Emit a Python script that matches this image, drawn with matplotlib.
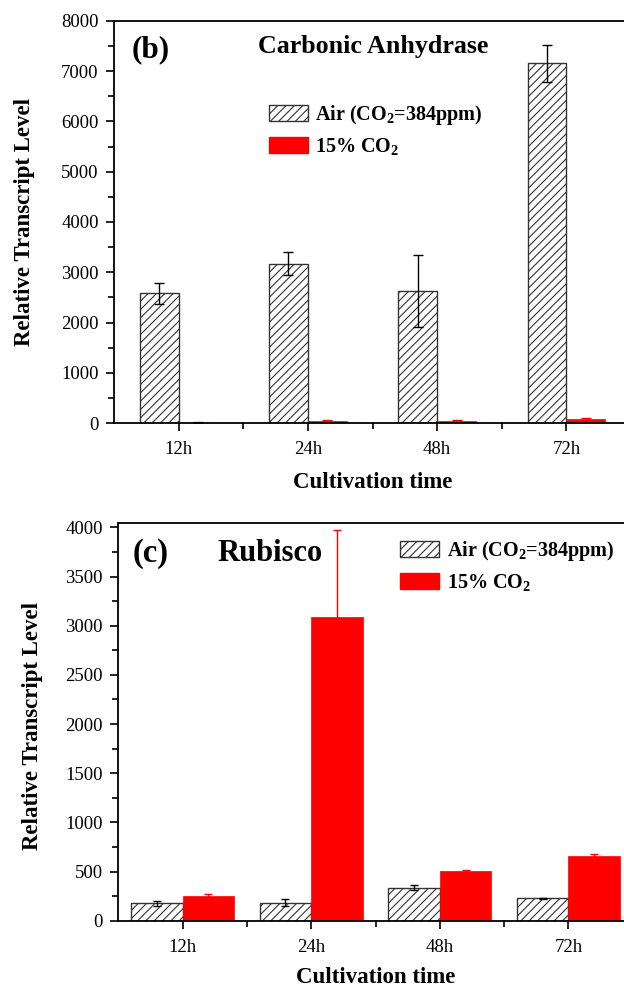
import matplotlib
matplotlib.use('Agg')
import matplotlib.pyplot as plt
import numpy as np
from matplotlib.patches import Patch
from matplotlib.ticker import MultipleLocator, FixedLocator

# ---- data ----
categories = ['12h', '24h', '48h', '72h']
ca_air = [2580, 3175, 2620, 7150]
ca_air_err = [212, 235, 715, 375]
ca_co2 = [15, 50, 50, 85]
ca_co2_err = [5, 8, 8, 30]

rb_air = [175, 182, 335, 228]
rb_air_err = [22, 36, 25, 6]
rb_co2 = [250, 3085, 507, 656]
rb_co2_err = [20, 890, 13, 27]

label_air = r'Air (CO$_\mathbf{2}$=384ppm)'
label_co2 = r'15% CO$_\mathbf{2}$'

plt.rcParams['font.family'] = ['Liberation Serif', 'DejaVu Serif']
plt.rcParams['mathtext.fontset'] = 'custom'
plt.rcParams['mathtext.rm'] = 'Liberation Serif'
plt.rcParams['mathtext.bf'] = 'Liberation Serif:bold'
plt.rcParams['mathtext.it'] = 'Liberation Serif:italic'
plt.rcParams['hatch.linewidth'] = 0.8
plt.rcParams['hatch.color'] = '#333333'

W, H = 624, 988
fig = plt.figure(figsize=(W / 100, H / 100), dpi=100)

ax1 = fig.add_axes([114 / W, 1 - 423.3 / H, 517 / W, 402.6 / H])
ax2 = fig.add_axes([118.3 / W, 1 - 920.7 / H, 514.4 / W, 397.4 / H])

HATCH_EDGE = '#333333'
RED = '#ff0000'


def panel(ax, air, air_err, co2, co2_err, width, ytop, ymaj, ymin, cap):
    x = np.arange(1, len(categories) + 1)
    ax.bar(x - width / 2, air, width, yerr=air_err, color='white',
           edgecolor=HATCH_EDGE, hatch='////', linewidth=1.0,
           error_kw=dict(ecolor='black', elinewidth=1.0, capsize=cap, capthick=1.0))
    ax.bar(x + width / 2, co2, width, yerr=co2_err, color=RED,
           edgecolor=RED, linewidth=0.5,
           error_kw=dict(ecolor=RED, elinewidth=1.0, capsize=cap, capthick=1.0))
    ax.set_xlim(0.5, len(categories) + 0.5)
    ax.set_ylim(0, ytop)
    ax.set_xticks(x)
    ax.set_xticklabels(categories)
    ax.xaxis.set_minor_locator(FixedLocator(x[:-1] + 0.5))
    ax.yaxis.set_major_locator(MultipleLocator(ymaj))
    ax.yaxis.set_minor_locator(MultipleLocator(ymin))
    ax.tick_params(which='major', direction='out', length=6, width=1.2,
                   labelsize=13.5, pad=5)
    ax.tick_params(axis='x', which='major', pad=7)
    ax.tick_params(which='minor', direction='out', length=4, width=1.2)
    for s in ax.spines.values():
        s.set_linewidth(1.3)
    ax.set_ylabel('Relative Transcript Level', fontsize=16.5, fontweight='bold')
    ax.set_xlabel('Cultivation time', fontsize=16.5, fontweight='bold')


panel(ax1, ca_air, ca_air_err, ca_co2, ca_co2_err, 0.3, 8000, 1000, 500, 3.6)
panel(ax2, rb_air, rb_air_err, rb_co2, rb_co2_err, 0.4, 4041, 500, 250, 3.0)

ax1.yaxis.set_label_coords(-0.152, 0.5)
ax2.yaxis.set_label_coords(-0.147, 0.49)
ax1.xaxis.set_label_coords(0.5, -0.122)
ax2.xaxis.set_label_coords(0.5, -0.116)

ax1.text(0.0716, 0.927, '(b)', transform=ax1.transAxes, fontsize=22.5,
         fontweight='bold', ha='center', va='center')
ax1.text(0.501, 0.937, 'Carbonic Anhydrase', transform=ax1.transAxes,
         fontsize=18.7, fontweight='bold', ha='center', va='center')
ax2.text(0.0634, 0.925, '(c)', transform=ax2.transAxes, fontsize=23.5,
         fontweight='bold', ha='center', va='center')
ax2.text(0.294, 0.925, 'Rubisco', transform=ax2.transAxes,
         fontsize=22, fontweight='bold', ha='center', va='center')

handles = [Patch(facecolor='white', edgecolor=HATCH_EDGE, hatch='////', linewidth=1.0),
           Patch(facecolor=RED, edgecolor=RED)]
legprop = dict(family='Liberation Serif', weight='bold', size=14.5)
for ax, anchor in ((ax1, (0.299, 0.795)), (ax2, (0.548, 0.96))):
    ax.legend(handles, [label_air, label_co2], loc='upper left',
              bbox_to_anchor=anchor, frameon=False, prop=legprop,
              handlelength=1.95, handleheight=0.85, handletextpad=0.35,
              labelspacing=0.45, borderpad=0, borderaxespad=0)

fig.savefig('out.png', dpi=100)
